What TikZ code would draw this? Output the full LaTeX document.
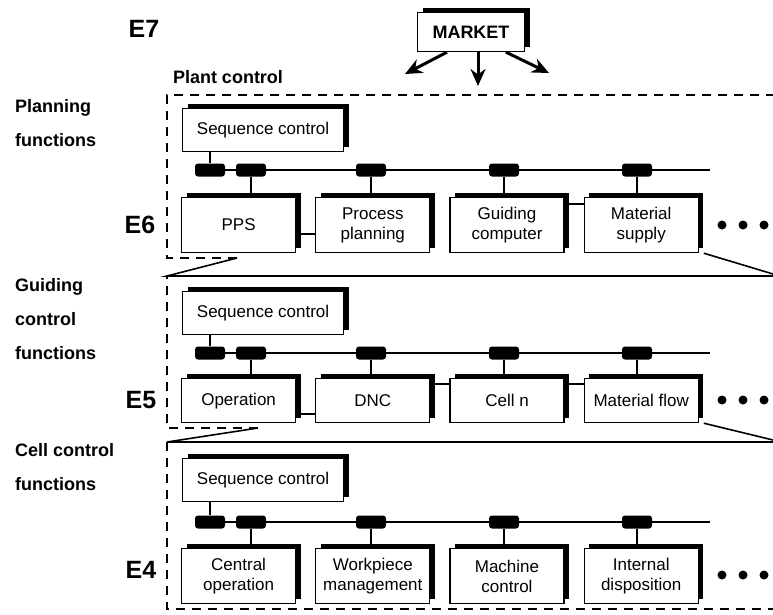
\documentclass[tikz,border=0pt]{standalone}
\usepackage{fontspec}
\setmainfont{Liberation Sans}
\usepackage{tikz}
\usetikzlibrary{positioning,arrows.meta,shadows}

\begin{document}
\begin{tikzpicture}[
  x = 1pt, y = -1pt,
  every node/.style = {font=\fontsize{17}{20}\selectfont},
  %% box styles
  fbox/.style   = {rectangle, draw=black, line width=1.2pt, fill=white,
                   align=center, inner sep=2pt,
                   minimum width=114pt, minimum height=55pt,
                   drop shadow={fill=black, opacity=1,
                                shadow xshift=5pt, shadow yshift=5pt}},
  lowbox/.style = {fbox, minimum height=44pt},
  seqbox/.style = {fbox, minimum width=161pt, minimum height=43pt},
  mktbox/.style = {fbox, minimum width=107pt, minimum height=39pt,
                   font=\fontsize{18}{20}\selectfont\bfseries},
  %% bus parts
  conn/.style   = {rectangle, rounded corners=3pt, fill=black,
                   minimum width=30pt, minimum height=13pt, inner sep=0pt},
  dot/.style    = {circle, fill=black, minimum size=9pt, inner sep=0pt},
  %% labels
  lvl/.style     = {font=\fontsize{25}{28}\selectfont\bfseries},
  head/.style    = {font=\fontsize{18}{20}\selectfont\bfseries},
  sidelbl/.style = {font=\fontsize{18}{34}\selectfont\bfseries,
                    align=left, anchor=north west, inner sep=0pt},
  %% lines
  bus/.style        = {line width=2.4pt},
  link/.style       = {line width=1.8pt},
  persp/.style      = {line width=1.6pt},
  plantframe/.style = {line width=1.4pt, dash pattern=on 9pt off 7pt},
  mkarr/.style      = {line width=3pt, -{Stealth[length=17pt, width=15pt]}}
]
\useasboundingbox (0,0) rectangle (773,614);

%% ---- Top: market ----
\node[lvl]  (E7)  at (144,29) {E7};
\node[mktbox] (MKT) at (471,32) {MARKET};
\coordinate (MA1) at (405,74);
\coordinate (MA2) at (478,86);
\coordinate (MA3) at (549,73);
\draw[mkarr] (MKT.220) -- (MA1);
\draw[mkarr] (MKT.south -| MA2) -- (MA2);
\draw[mkarr] (MKT.330) -- (MA3);

\node[head] (PLC) at (228,77) {Plant control};

%% ---- Side labels ----
\node[sidelbl] (PLF) at (15,99)  {Planning\\functions};
\node[sidelbl] (GCF) at (15,278) {Guiding\\control\\functions};
\node[sidelbl] (CCF) at (15,443) {Cell control\\functions};

\node[lvl] (E6) at (140,225) {E6};
\node[lvl] (E5) at (141,400) {E5};
\node[lvl] (E4) at (141,570) {E4};

%% ---- E6: planning ----
\node[seqbox, anchor=north west] (SEQ6) at (182,108) {Sequence control};
\node[fbox, anchor=north west] (PPS) at (181,197) {PPS};
\node[fbox, right=19pt of PPS] (PRP) {Process\\planning};
\node[fbox, right=19pt of PRP] (GUC) {Guiding\\computer};
\node[fbox, right=19pt of GUC] (MAS) {Material\\supply};

\coordinate (B6) at (710,170);
\draw[bus] (210,170) -- (B6);
\node[conn] (K6a) at (210,170) {};
\node[conn] (K6b) at (251,170) {};
\node[conn] (K6c) at (371,170) {};
\node[conn] (K6d) at (504,170) {};
\node[conn] (K6e) at (637,170) {};

\draw[link] (SEQ6.south -| K6a) -- (K6a);
\draw[link] (K6b) -- (K6b |- PPS.north);
\draw[link] (K6c) -- (K6c |- PRP.north);
\draw[link] (K6d) -- (K6d |- GUC.north);
\draw[link] (K6e) -- (K6e |- MAS.north);
\draw[link] ([yshift=-9pt]PPS.east) -- ([yshift=-9pt]PRP.west);
\draw[link] ([yshift=21pt]GUC.east) -- ([yshift=21pt]MAS.west);

\node[dot] (D6a) at (722,225) {};
\node[dot] (D6b) at (743,225) {};
\node[dot] (D6c) at (764,225) {};

%% ---- E5: guiding control ----
\node[seqbox, anchor=north west] (SEQ5) at (182,291) {Sequence control};
\node[lowbox, anchor=north west] (OPE) at (181,378) {Operation};
\node[lowbox, right=19pt of OPE] (DNC) {DNC};
\node[lowbox, right=19pt of DNC] (CEL) {Cell n};
\node[lowbox, right=19pt of CEL] (MFL) {Material flow};

\coordinate (B5) at (710,353);
\draw[bus] (210,353) -- (B5);
\node[conn] (K5a) at (210,353) {};
\node[conn] (K5b) at (251,353) {};
\node[conn] (K5c) at (371,353) {};
\node[conn] (K5d) at (504,353) {};
\node[conn] (K5e) at (637,353) {};

\draw[link] (SEQ5.south -| K5a) -- (K5a);
\draw[link] (K5b) -- (K5b |- OPE.north);
\draw[link] (K5c) -- (K5c |- DNC.north);
\draw[link] (K5d) -- (K5d |- CEL.north);
\draw[link] (K5e) -- (K5e |- MFL.north);
\draw[link] ([yshift=-13pt]OPE.east) -- ([yshift=-13pt]DNC.west);
\draw[link] ([yshift=17pt]DNC.east) -- ([yshift=17pt]CEL.west);
\draw[link] ([yshift=17pt]CEL.east) -- ([yshift=17pt]MFL.west);

\node[dot] (D5a) at (722,400) {};
\node[dot] (D5b) at (743,400) {};
\node[dot] (D5c) at (764,400) {};

%% ---- E4: cell control ----
\node[seqbox, anchor=north west] (SEQ4) at (182,458) {Sequence control};
\node[fbox, anchor=north west] (CEO) at (181,548) {Central\\operation};
\node[fbox, right=19pt of CEO] (WPM) {Workpiece\\management};
\node[fbox, right=19pt of WPM] (MAC) {Machine\\control};
\node[fbox, right=19pt of MAC] (IND) {Internal\\disposition};

\coordinate (B4) at (710,522);
\draw[bus] (210,522) -- (B4);
\node[conn] (K4a) at (210,522) {};
\node[conn] (K4b) at (251,522) {};
\node[conn] (K4c) at (371,522) {};
\node[conn] (K4d) at (504,522) {};
\node[conn] (K4e) at (637,522) {};

\draw[link] (SEQ4.south -| K4a) -- (K4a);
\draw[link] (K4b) -- (K4b |- CEO.north);
\draw[link] (K4c) -- (K4c |- WPM.north);
\draw[link] (K4d) -- (K4d |- MAC.north);
\draw[link] (K4e) -- (K4e |- IND.north);

\node[dot] (D4a) at (722,575) {};
\node[dot] (D4b) at (743,575) {};
\node[dot] (D4c) at (764,575) {};

%% ---- Frames and zoom lines ----
\draw[plantframe] (237,258) -- (167,258) -- (167,95) -- (773,95);
\draw[persp] (237,258) -- (167,276) -- (773,276);
\draw[persp] ([xshift=5pt]MAS.south east) -- (773,274);

\draw[plantframe] (258,428) -- (167,428) -- (167,276);
\draw[persp] (258,428) -- (167,442) -- (773,442);
\draw[persp] ([xshift=5pt]MFL.south east) -- (773,440);

\draw[plantframe] (167,442) -- (167,609) -- (773,609);

\end{tikzpicture}
\end{document}
